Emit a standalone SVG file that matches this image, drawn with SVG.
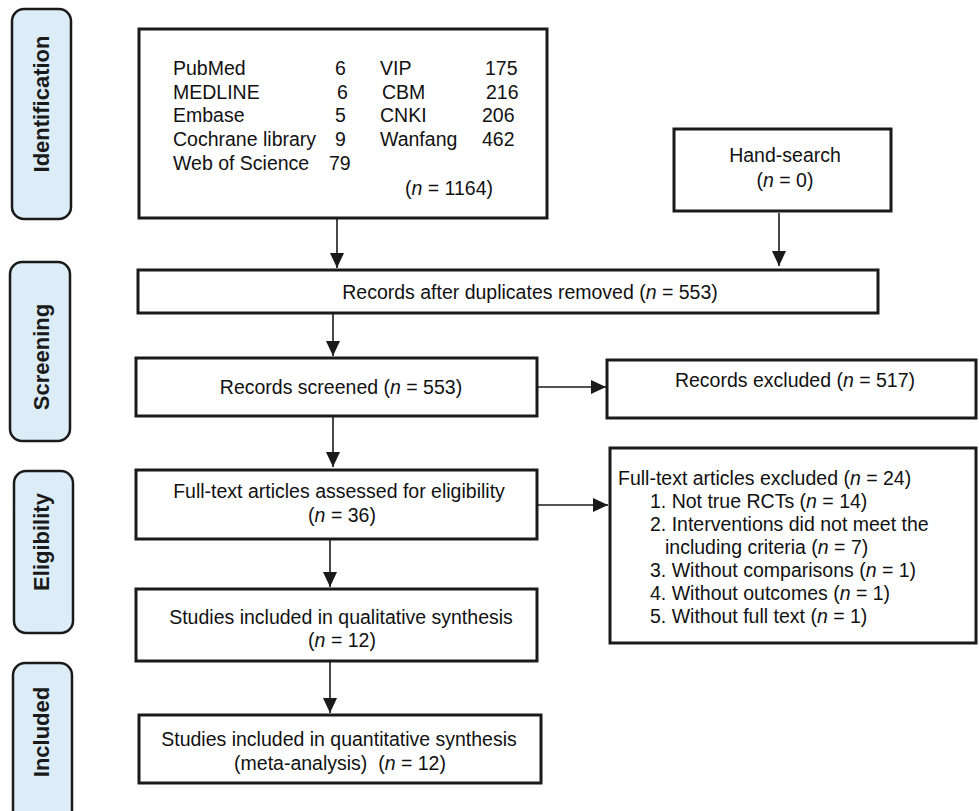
<svg xmlns="http://www.w3.org/2000/svg" width="979" height="811" viewBox="0 0 979 811">
<style>
.bg{fill:#ffffff}
.phase{fill:#dcedf8;stroke:#1a1a1a;stroke-width:2.5}
.ph{font-family:"Liberation Sans",Arial,sans-serif;font-weight:bold;font-size:22px;fill:#1a1a1a;text-anchor:middle}
.box{fill:#ffffff;stroke:#1a1a1a;stroke-width:3}
.t{font-family:"Liberation Sans",Arial,sans-serif;font-size:19.5px;fill:#111111}
.c{text-anchor:middle}
.conn{stroke:#1a1a1a;stroke-width:1.6;fill:none;marker-end:url(#ah)}
</style>
<defs>
<marker id="ah" markerUnits="userSpaceOnUse" markerWidth="15" markerHeight="14" viewBox="0 0 15 14" refX="15" refY="7" orient="auto">
<path d="M0,0 L15,7 L0,14 z" fill="#1a1a1a"/>
</marker>
</defs>
<rect class="bg" x="0" y="0" width="979" height="811"/>

<g id="phase-identification">
<rect class="phase" x="12" y="9" width="59" height="210" rx="12"/>
<text class="ph" transform="translate(49,104) rotate(-90)">Identification</text>
</g>
<g id="phase-screening">
<rect class="phase" x="10" y="262" width="60" height="179" rx="12"/>
<text class="ph" transform="translate(49,357) rotate(-90)">Screening</text>
</g>
<g id="phase-eligibility">
<rect class="phase" x="14" y="471" width="59" height="162" rx="12"/>
<text class="ph" transform="translate(49,542) rotate(-90)">Eligibility</text>
</g>
<g id="phase-included">
<rect class="phase" x="13" y="663" width="59" height="165" rx="12"/>
<text class="ph" transform="translate(49,732) rotate(-90)">Included</text>
</g>

<g id="databases">
<rect class="box" x="139" y="29" width="408" height="189"/>
<text class="t" x="173" y="75">PubMed</text>
<text class="t" x="173" y="99">MEDLINE</text>
<text class="t" x="173" y="122">Embase</text>
<text class="t" x="173" y="146">Cochrane library</text>
<text class="t" x="173" y="170">Web of Science</text>
<text class="t" x="335" y="75">6</text>
<text class="t" x="337" y="99">6</text>
<text class="t" x="335" y="122">5</text>
<text class="t" x="335" y="146">9</text>
<text class="t" x="329" y="170">79</text>
<text class="t" x="380" y="75">VIP</text>
<text class="t" x="382" y="99">CBM</text>
<text class="t" x="380" y="122">CNKI</text>
<text class="t" x="380" y="146">Wanfang</text>
<text class="t" x="485" y="75">175</text>
<text class="t" x="486" y="99">216</text>
<text class="t" x="482" y="122">206</text>
<text class="t" x="482" y="146">462</text>
<text class="t" x="405" y="195">(<tspan font-style="italic">n</tspan> = 1164)</text>
</g>

<g id="hand-search">
<rect class="box" x="674" y="129" width="217" height="82"/>
<text class="t c" x="785" y="162">Hand-search</text>
<text class="t c" x="785" y="187">(<tspan font-style="italic">n</tspan> = 0)</text>
</g>

<g id="records-after-duplicates">
<rect class="box" x="138" y="270" width="740" height="43"/>
<text class="t c" x="530" y="299">Records after duplicates removed (<tspan font-style="italic">n</tspan> = 553)</text>
</g>

<g id="records-screened">
<rect class="box" x="136" y="358" width="401" height="58"/>
<text class="t c" x="341" y="394">Records screened (<tspan font-style="italic">n</tspan> = 553)</text>
</g>

<g id="records-excluded">
<rect class="box" x="607" y="360" width="369" height="58"/>
<text class="t c" x="795" y="387">Records excluded (<tspan font-style="italic">n</tspan> = 517)</text>
</g>

<g id="full-text-assessed">
<rect class="box" x="136" y="470" width="401" height="69"/>
<text class="t c" x="339" y="498">Full-text articles assessed for eligibility</text>
<text class="t c" x="342" y="522">(<tspan font-style="italic">n</tspan> = 36)</text>
</g>

<g id="full-text-excluded">
<rect class="box" x="610" y="448" width="366" height="195"/>
<text class="t" x="618" y="485">Full-text articles excluded (<tspan font-style="italic">n</tspan> = 24)</text>
<text class="t" x="650" y="508">1. Not true RCTs (<tspan font-style="italic">n</tspan> = 14)</text>
<text class="t" x="650" y="531">2. Interventions did not meet the</text>
<text class="t" x="665" y="554">including criteria (<tspan font-style="italic">n</tspan> = 7)</text>
<text class="t" x="650" y="577">3. Without comparisons (<tspan font-style="italic">n</tspan> = 1)</text>
<text class="t" x="650" y="600">4. Without outcomes (<tspan font-style="italic">n</tspan> = 1)</text>
<text class="t" x="650" y="623">5. Without full text (<tspan font-style="italic">n</tspan> = 1)</text>
</g>

<g id="qualitative">
<rect class="box" x="136" y="589" width="401" height="72"/>
<text class="t c" x="341" y="624">Studies included in qualitative synthesis</text>
<text class="t c" x="342" y="647">(<tspan font-style="italic">n</tspan> = 12)</text>
</g>

<g id="quantitative">
<rect class="box" x="139" y="715" width="402" height="68"/>
<text class="t c" x="339" y="746">Studies included in quantitative synthesis</text>
<text class="t c" x="340" y="770">(meta-analysis)&#160; (<tspan font-style="italic">n</tspan> = 12)</text>
</g>

<g id="connectors">
<line class="conn" x1="337" y1="219" x2="337" y2="268"/>
<line class="conn" x1="779" y1="213" x2="779" y2="266"/>
<line class="conn" x1="333" y1="314" x2="333" y2="356"/>
<line class="conn" x1="538" y1="387" x2="606" y2="387"/>
<line class="conn" x1="333" y1="417" x2="333" y2="467"/>
<line class="conn" x1="538" y1="505" x2="608" y2="505"/>
<line class="conn" x1="330" y1="540" x2="330" y2="587"/>
<line class="conn" x1="330" y1="662" x2="330" y2="713"/>
</g>
</svg>
